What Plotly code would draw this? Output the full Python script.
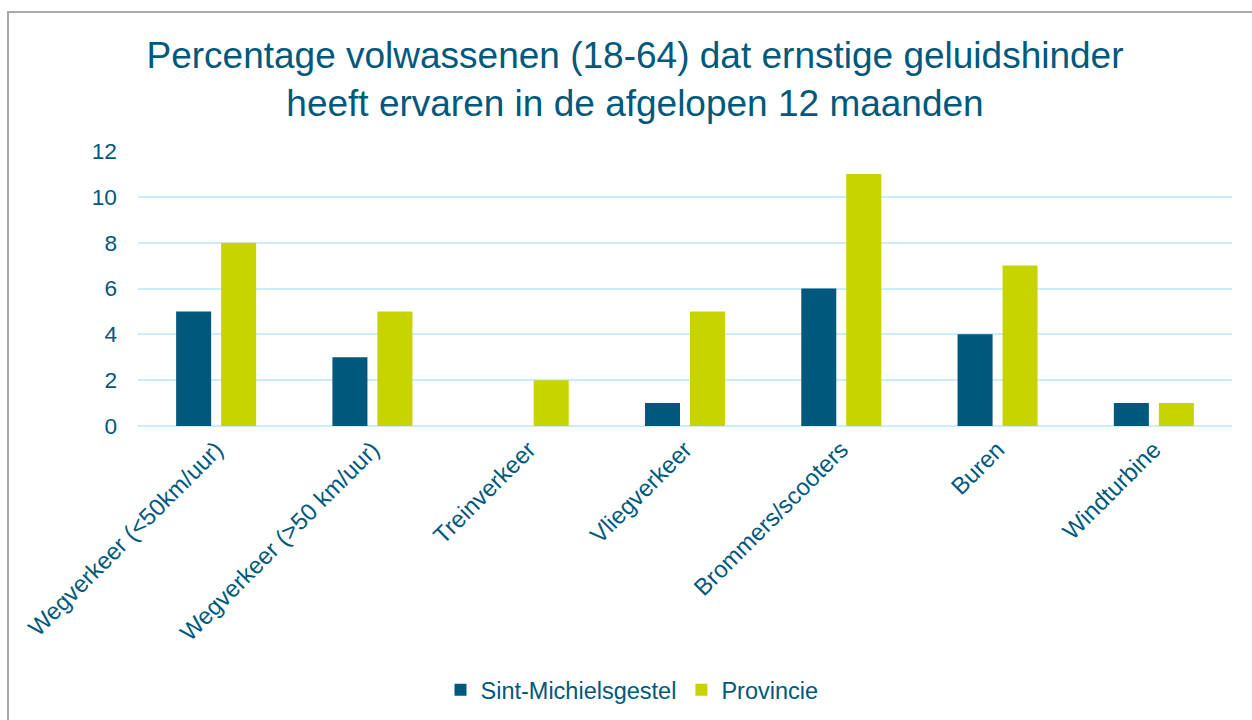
import plotly.graph_objects as go

categories = [
    "Wegverkeer (<50km/uur)",
    "Wegverkeer (>50 km/uur)",
    "Treinverkeer",
    "Vliegverkeer",
    "Brommers/scooters",
    "Buren",
    "Windturbine",
]
sint_michielsgestel = [5, 3, 0, 1, 6, 4, 1]
provincie = [8, 5, 2, 5, 11, 7, 1]
y_ticks = [0, 2, 4, 6, 8, 10, 12]

TEXT = "#00587C"
DARK = "#00587C"
LIME = "#C8D400"
GRID = "#CCEEFA"
FONT = "Liberation Sans, Arial, sans-serif"

fig = go.Figure()
fig.add_trace(go.Bar(
    name="Sint-Michielsgestel", x=categories, y=sint_michielsgestel,
    marker=dict(color=DARK, line=dict(width=0)),
))
fig.add_trace(go.Bar(
    name="Provincie", x=categories, y=provincie,
    marker=dict(color=LIME, line=dict(width=0)),
))

L, R, T, B = 138, 20, 151, 294
W, H = 1252, 720
pw, ph = W - L - R, H - T - B

fig.update_layout(
    width=W, height=H,
    margin=dict(l=L, r=R, t=T, b=B, autoexpand=False),
    paper_bgcolor="white", plot_bgcolor="white",
    font=dict(family=FONT, color=TEXT, size=23),
    barmode="group", bargap=0.424, bargroupgap=0.222,
    title=dict(
        text="Percentage volwassenen (18-64) dat ernstige geluidshinder<br>heeft ervaren in de afgelopen 12 maanden",
        x=635 / W, xanchor="center", xref="container",
        y=1 - 68 / H, yanchor="top", yref="container",
        font=dict(size=37, color=TEXT, family=FONT),
    ),
    legend=dict(
        orientation="h", x=632 / W, xanchor="center", xref="container",
        y=(H - 690) / H, yanchor="middle", yref="container",
        font=dict(size=23.5, color=TEXT), itemwidth=30,
        traceorder="normal",
    ),
    showlegend=True,
)
fig.update_xaxes(
    tickangle=-45, tickfont=dict(size=23.8, color=TEXT),
    showgrid=False, showline=False, ticks="", ticklabelstandoff=4,
)
fig.update_yaxes(
    range=[0, 12], tickvals=y_ticks, tickfont=dict(size=22.7, color=TEXT),
    showgrid=True, gridcolor=GRID, gridwidth=2,
    zeroline=True, zerolinecolor=GRID, zerolinewidth=2,
    showline=False, ticks="", ticklabelstandoff=20,
)

# Outer frame of the chart area
fig.add_shape(
    type="rect", xref="paper", yref="paper",
    x0=(8 - L) / pw, x1=(W + 20 - L) / pw,
    y0=-(H + 20 - (T + ph)) / ph, y1=1 + (T - 12) / ph,
    line=dict(color="#AAAAAA", width=2), fillcolor="rgba(0,0,0,0)",
    layer="below",
)

fig.write_html("out.html")
